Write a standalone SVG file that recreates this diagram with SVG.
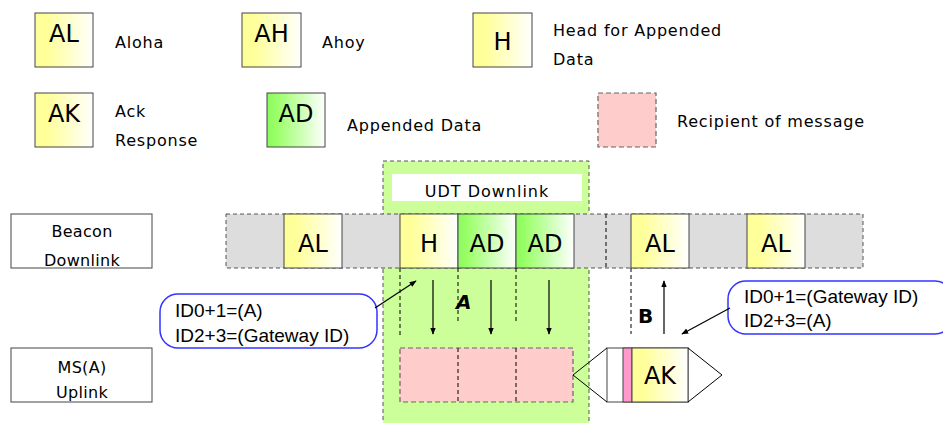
<svg xmlns="http://www.w3.org/2000/svg" width="943" height="423" viewBox="0 0 943 423">
<defs>
<linearGradient id="gy" x1="0" y1="0" x2="1" y2="0"><stop offset="0" stop-color="#ffff99"/><stop offset="0.2" stop-color="#ffff99"/><stop offset="1" stop-color="#ffffff"/></linearGradient>
<linearGradient id="gg" x1="0" y1="0" x2="1" y2="0"><stop offset="0" stop-color="#8cf860"/><stop offset="0.15" stop-color="#99ff66"/><stop offset="1" stop-color="#ffffff"/></linearGradient>
<marker id="ah" viewBox="0 0 10 10" refX="9" refY="5" markerWidth="7" markerHeight="7" orient="auto" markerUnits="userSpaceOnUse"><path d="M0,1 L10,5 L0,9 z" fill="#000"/></marker>
<style>
.c{font-family:"DejaVu Sans",sans-serif;fill:#000}
.lab{font-size:24px;text-anchor:middle}
.d{font-size:16px;letter-spacing:0.8px}
.rl{font-size:16px;text-anchor:middle;letter-spacing:0.3px}
.a{font-family:"Liberation Sans",Arial,sans-serif;font-size:19px;fill:#000}
.y{fill:url(#gy);stroke:#444;stroke-width:1}
.g{fill:url(#gg);stroke:#444;stroke-width:1}
.gray{fill:#dddddd;stroke:#555;stroke-width:1;stroke-dasharray:4 3}
.pk{fill:#ffcccc;stroke:#666;stroke-width:1.2;stroke-dasharray:5 3}
.box{fill:#fff;stroke:#444;stroke-width:1}
.call{fill:#fff;stroke:#3333ff;stroke-width:1.5}
.dash{stroke:#000;stroke-width:1;stroke-dasharray:4 3;fill:none}
.ar{stroke:#000;stroke-width:1.2;fill:none;marker-end:url(#ah)}
.ln{stroke:#000;stroke-width:1;fill:none}
.bold{font-family:"DejaVu Sans",sans-serif;font-weight:bold;font-size:20px;fill:#000}
</style>
</defs>

<g id="legend-al"><rect class="y" x="35" y="13" width="58" height="54"/><text class="c lab" x="64" y="42">AL</text><text class="c d" x="115" y="48">Aloha</text></g>
<g id="legend-ah"><rect class="y" x="242" y="13" width="59" height="54"/><text class="c lab" x="271.5" y="42">AH</text><text class="c d" x="322" y="48">Ahoy</text></g>
<g id="legend-h"><rect class="y" x="473" y="13" width="59" height="54"/><text class="c lab" x="502.5" y="50">H</text><text class="c d" x="553" y="36">Head for Appended</text><text class="c d" x="553" y="65">Data</text></g>
<g id="legend-ak"><rect class="y" x="35" y="93" width="58" height="54"/><text class="c lab" x="64" y="122">AK</text><text class="c d" x="115" y="117">Ack</text><text class="c d" x="115" y="146">Response</text></g>
<g id="legend-ad"><rect class="g" x="267" y="93" width="58" height="54"/><text class="c lab" x="296" y="122">AD</text><text class="c d" x="347" y="131">Appended Data</text></g>
<g id="legend-recipient"><rect class="pk" x="598" y="93" width="58" height="54"/><text class="c d" x="677" y="127">Recipient of message</text></g>

<g id="udt-region"><rect x="383" y="161" width="206" height="270" fill="#ccff99" stroke="#555" stroke-width="1" stroke-dasharray="4 3"/><rect x="392" y="174" width="190" height="27" fill="#fff"/><text class="c" x="487" y="197" font-size="16" text-anchor="middle" letter-spacing="1">UDT Downlink</text></g>

<g id="beacon-label"><rect class="box" x="11" y="214" width="141" height="54"/><text class="c rl" x="82" y="237">Beacon</text><text class="c rl" x="82" y="266">Downlink</text></g>
<g id="ms-label"><rect class="box" x="11" y="348" width="141" height="54"/><text class="c rl" x="82" y="373">MS(A)</text><text class="c rl" x="82" y="398">Uplink</text></g>

<g id="beacon-row">
<rect class="gray" x="226" y="214" width="637" height="54"/>
<line class="dash" x1="606" y1="214" x2="606" y2="268" stroke="#555"/>
<rect class="y" x="284" y="214" width="58" height="54"/><text class="c lab" x="313" y="252">AL</text>
<rect class="y" x="400" y="214" width="58" height="54"/><text class="c lab" x="429" y="252">H</text>
<rect class="g" x="458" y="214" width="58" height="54"/><text class="c lab" x="487" y="252">AD</text>
<rect class="g" x="516" y="214" width="58" height="54"/><text class="c lab" x="545" y="252">AD</text>
<rect class="y" x="631" y="214" width="58" height="54"/><text class="c lab" x="660" y="252">AL</text>
<rect class="y" x="747" y="214" width="58" height="54"/><text class="c lab" x="776" y="252">AL</text>
</g>

<g id="uplink-row">
<rect class="pk" x="400" y="348" width="173" height="54"/>
<line class="dash" x1="458" y1="348" x2="458" y2="402" stroke-dasharray="7 3"/>
<line class="dash" x1="516" y1="348" x2="516" y2="402" stroke-dasharray="7 3"/>
</g>

<g id="ak-packet">
<rect x="607" y="348" width="81" height="54" fill="#fff" stroke="#444"/>
<rect x="623" y="348" width="9" height="54" fill="#ff99cc" stroke="#444"/>
<rect class="y" x="632" y="348" width="56" height="54"/><text class="c lab" x="660" y="384">AK</text>
<path class="ln" d="M688,348 L722,375 L688,402"/>
</g>

<g id="callout-a"><rect class="call" x="160" y="294" width="217" height="54" rx="18"/><text class="a" x="175" y="317">ID0+1=(A)</text><text class="a" x="175" y="342">ID2+3=(Gateway ID)</text></g>
<g id="callout-b"><rect class="call" x="728" y="281" width="225" height="53" rx="18"/><text class="a" x="744" y="303">ID0+1=(Gateway ID)</text><text class="a" x="744" y="327">ID2+3=(A)</text></g>

<g id="label-a"><text class="bold" x="456" y="309" font-style="italic">A</text></g>
<g id="label-b"><text class="bold" x="638" y="323">B</text></g>

<g id="connectors">
<line class="dash" x1="400" y1="268" x2="400" y2="335"/>
<line class="dash" x1="458" y1="268" x2="458" y2="322"/>
<line class="dash" x1="516" y1="268" x2="516" y2="322"/>
<line class="dash" x1="631" y1="268" x2="631" y2="334" stroke="#555"/>
<line class="ar" x1="433" y1="280" x2="433" y2="334"/>
<line class="ar" x1="491" y1="280" x2="491" y2="334"/>
<line class="ar" x1="549" y1="280" x2="549" y2="334"/>
<line class="ar" x1="664" y1="334" x2="664" y2="281"/>
<line class="ar" x1="375" y1="308" x2="416" y2="281"/>
<line class="ar" x1="730" y1="308" x2="682" y2="334"/>
<path class="ln" d="M607,348 L573,375 L607,402"/>
</g>
</svg>
